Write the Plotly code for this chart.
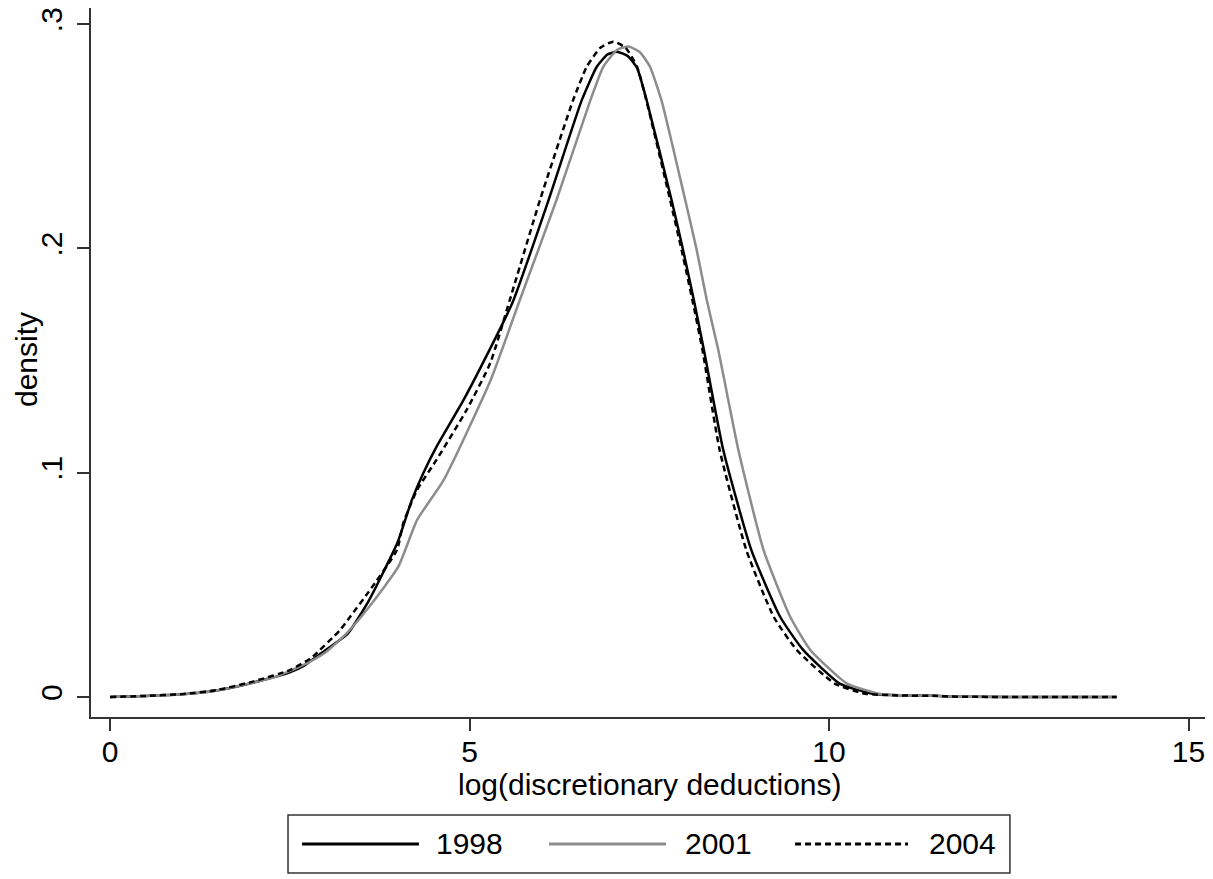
import plotly.graph_objects as go

# kernel density curves
x_1998 = [0, 0.5, 1, 1.5, 2, 2.5, 2.7, 3.0, 3.3, 3.6, 4.0, 4.2, 4.36, 4.54, 4.91, 5.25, 5.6,
          6.1, 6.56, 6.77, 6.92, 7.05, 7.2, 7.33, 7.46, 7.81, 7.97, 8.12, 8.26, 8.53,
          8.92, 9.32, 9.64, 10.15, 10.6, 11.0, 11.5, 11.7, 12.0, 13.0, 14.0]
y_1998 = [0, 0.0005, 0.0012, 0.003, 0.0065, 0.011, 0.014, 0.021, 0.028, 0.043, 0.069,
          0.088, 0.100, 0.1115, 0.132, 0.153, 0.176, 0.2216, 0.266, 0.281, 0.2865, 0.2877,
          0.2858, 0.2805, 0.2665, 0.2216, 0.1993, 0.177, 0.1547, 0.110, 0.0655, 0.0358,
          0.021, 0.006, 0.0015, 0.0008, 0.0006, 0.0002, 0.0001, 0, 0]

x_2001 = [0, 0.5, 1, 1.5, 1.95, 2.3, 2.69, 3.0, 3.29, 3.6, 4.01, 4.27, 4.64, 5.29, 5.7,
          6.21, 6.68, 6.86, 7.05, 7.21, 7.37, 7.51, 7.67, 8.0, 8.16, 8.30, 8.46, 8.74,
          9.09, 9.46, 9.74, 10.25, 10.7, 11.0, 11.5, 11.7, 12.0, 13.0, 14.0]
y_2001 = [0, 0.0005, 0.0012, 0.003, 0.0061, 0.009, 0.0143, 0.020, 0.0284, 0.040, 0.0581,
          0.0789, 0.0967, 0.141, 0.177, 0.2216, 0.266, 0.281, 0.2885, 0.290, 0.2875,
          0.281, 0.266, 0.2216, 0.1993, 0.177, 0.1547, 0.110, 0.0655, 0.0358, 0.021,
          0.006, 0.0015, 0.0008, 0.0006, 0.0002, 0.0001, 0, 0]

x_2004 = [0, 0.5, 1, 1.5, 2, 2.5, 2.8, 3.2, 3.34, 3.6, 3.99, 4.08, 4.27, 4.54, 4.96, 5.29,
          5.56, 5.98, 6.44, 6.63, 6.82, 7.0, 7.17, 7.33, 7.46, 7.79, 7.95, 8.1, 8.24,
          8.48, 8.85, 9.23, 9.55, 10.08, 10.5, 11.0, 11.5, 11.7, 12.0, 13.0, 14.0]
y_2004 = [0, 0.0005, 0.0013, 0.0032, 0.007, 0.012, 0.0175, 0.0299, 0.0358, 0.047, 0.0655,
          0.0776, 0.0923, 0.1057, 0.128, 0.149, 0.177, 0.2216, 0.266, 0.281, 0.2895,
          0.2922, 0.2895, 0.281, 0.266, 0.2216, 0.1993, 0.177, 0.1547, 0.110, 0.0655,
          0.0358, 0.021, 0.006, 0.0015, 0.0007, 0.0005, 0.0002, 0.0001, 0, 0]

x_ticks = [0, 5, 10, 15]
y_ticks = [0, 0.1, 0.2, 0.3]
y_tick_labels = ["0", ".1", ".2", ".3"]

series = [
    ("1998", x_1998, y_1998, "black", "solid"),
    ("2001", x_2001, y_2001, "#8c8c8c", "solid"),
    ("2004", x_2004, y_2004, "black", "6px,4px"),
]

FONT = "Liberation Sans, Arial, sans-serif"

fig = go.Figure()
for name, xs, ys, col, dash in series:
    fig.add_trace(go.Scatter(
        x=xs, y=ys, mode="lines", name=name,
        line=dict(color=col, width=2.5, dash=dash, shape="spline", smoothing=0.5),
        showlegend=False,
    ))

# legend drawn by hand (Stata style: long line samples inside a box)
fig.add_shape(type="rect", xref="paper", yref="paper",
              x0=0.1756, x1=0.819, y0=-0.2200, y1=-0.1382,
              line=dict(color="#333333", width=1.5), fillcolor="white")
leg_pos = [(0.1881, 0.2923, 0.3057), (0.4082, 0.5125, 0.5276), (0.6275, 0.7282, 0.7451)]
for (name, xs, ys, col, dash), (lx0, lx1, tx) in zip(series, leg_pos):
    fig.add_shape(type="line", xref="paper", yref="paper",
                  x0=lx0, x1=lx1, y0=-0.1791, y1=-0.1791,
                  line=dict(color=col, width=3, dash=dash))
    fig.add_annotation(x=tx, y=-0.1791, xref="paper", yref="paper", text=name,
                       showarrow=False, xanchor="left", yanchor="middle",
                       font=dict(size=30, color="black", family=FONT))

# axis titles
fig.add_annotation(x=0.4982, y=-0.0945, xref="paper", yref="paper",
                   text="log(discretionary deductions)", showarrow=False,
                   xanchor="center", yanchor="middle", font=dict(size=30, family=FONT))
fig.add_annotation(x=-0.0579, y=0.5035, xref="paper", yref="paper",
                   text="density", textangle=-90, showarrow=False,
                   xanchor="center", yanchor="middle", font=dict(size=30, family=FONT))

fig.update_layout(
    width=1205, height=871,
    margin=dict(l=83, r=0, t=0, b=162, autoexpand=False),
    paper_bgcolor="white", plot_bgcolor="white",
    font=dict(family=FONT, size=30, color="black"),
    showlegend=False,
)
fig.update_xaxes(
    range=[-0.264, 15.34], tickvals=x_ticks, showgrid=False, zeroline=False,
    showline=True, linecolor="#333333", linewidth=1.5,
    ticks="outside", ticklen=12, tickwidth=1.5, tickcolor="#333333",
    tickfont=dict(size=30), ticklabelstandoff=-5, ticklabeloverflow="allow",
)
fig.update_yaxes(
    range=[-0.0089, 0.3072], tickvals=y_ticks, ticktext=y_tick_labels, tickangle=-90,
    showgrid=False, zeroline=False,
    showline=True, linecolor="#333333", linewidth=1.5,
    ticks="outside", ticklen=12, tickwidth=1.5, tickcolor="#333333",
    tickfont=dict(size=30), ticklabelstandoff=3, ticklabeloverflow="allow",
)

fig.write_html("out.html")
